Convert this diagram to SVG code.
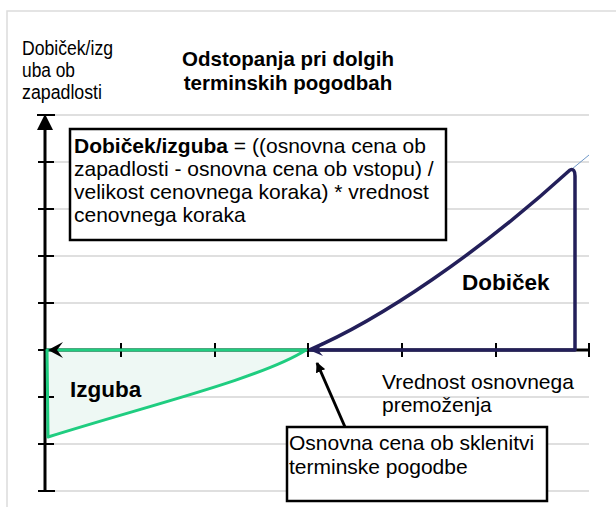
<svg xmlns="http://www.w3.org/2000/svg" width="616" height="509" viewBox="0 0 616 509">
<defs>
<style>
.frame{fill:none;stroke:#dcdcdc;stroke-width:1.5}
.grid{stroke:#d4d4d4;stroke-width:1.5}
.tick{stroke:#000;stroke-width:2}
.axis{stroke:#000;stroke-width:3;fill:none}
.t{font-family:"Liberation Sans",Arial,sans-serif;fill:#000}
.box{fill:#fff;stroke:#000;stroke-width:2.5}
</style>
<marker id="ah" markerWidth="10" markerHeight="10" refX="9" refY="5" orient="auto" markerUnits="userSpaceOnUse" viewBox="0 0 10 10">
<path d="M0,0 L10,5 L0,10 z" fill="#000"/>
</marker>
</defs>
<rect width="616" height="509" fill="#fff"/>
<path class="frame" d="M616,11 H7 V507"/>
<g id="grid">
<line class="grid" x1="45" y1="115" x2="589" y2="115"/>
<line class="grid" x1="45" y1="162" x2="589" y2="162"/>
<line class="grid" x1="45" y1="209" x2="589" y2="209"/>
<line class="grid" x1="45" y1="256" x2="589" y2="256"/>
<line class="grid" x1="45" y1="303" x2="589" y2="303"/>
<line class="grid" x1="45" y1="397" x2="589" y2="397"/>
<line class="grid" x1="45" y1="444" x2="589" y2="444"/>
<line class="grid" x1="45" y1="491" x2="589" y2="491"/>
</g>
<g id="loss">
<path d="M47,350 H306 C262,378 150,405 48,437 Z" fill="#eef8f4" stroke="none"/>
</g>
<g id="axes">
<line class="axis" x1="45" y1="124" x2="45" y2="491"/>
<line class="axis" x1="45" y1="350" x2="589" y2="350" stroke-width="2.5"/>
<path d="M45,114 L53,130 L37,130 Z" fill="#000"/>
<line class="tick" x1="37" y1="115" x2="55" y2="115"/>
<line class="tick" x1="38" y1="162" x2="54" y2="162"/>
<line class="tick" x1="38" y1="209" x2="54" y2="209"/>
<line class="tick" x1="38" y1="256" x2="54" y2="256"/>
<line class="tick" x1="38" y1="303" x2="54" y2="303"/>
<line class="tick" x1="38" y1="350" x2="54" y2="350"/>
<line class="tick" x1="38" y1="397" x2="54" y2="397"/>
<line class="tick" x1="38" y1="444" x2="54" y2="444"/>
<line class="tick" x1="38" y1="491" x2="55" y2="491"/>
<line class="tick" x1="121" y1="343" x2="121" y2="357"/>
<line class="tick" x1="215" y1="343" x2="215" y2="357"/>
<line class="tick" x1="308" y1="343" x2="308" y2="357"/>
<line class="tick" x1="402" y1="343" x2="402" y2="357"/>
<line class="tick" x1="496" y1="343" x2="496" y2="357"/>
<line class="tick" x1="589" y1="343" x2="589" y2="357"/>
</g>
<g id="loss-outline">
<path d="M47,350 H306 C262,378 150,405 48,437 Z" fill="none" stroke="#1fcd80" stroke-width="3" stroke-linejoin="round"/>
<path d="M63,342 L48,350 L63,358 L57,350 Z" fill="#000"/>
</g>
<g id="profit">
<line x1="572" y1="169" x2="589" y2="155" stroke="#6f98c8" stroke-width="1"/>
<path d="M309,350 C380,320 480,252 570,170 Q575,168 575,176 V350 H309" fill="none" stroke="#231f5a" stroke-width="3.5" stroke-linejoin="round"/>
<path d="M323,342 L309,350 L323,356 L318,350 Z" fill="#231f5a"/>
</g>
<g id="title">
<text class="t" x="288" y="66" font-size="20.5" font-weight="bold" text-anchor="middle">Odstopanja pri dolgih</text>
<text class="t" x="288" y="90" font-size="20.5" font-weight="bold" text-anchor="middle">terminskih pogodbah</text>
</g>
<g id="ylabel">
<text class="t" x="22" y="55" font-size="20" textLength="91" lengthAdjust="spacingAndGlyphs">Dobiček/izg</text>
<text class="t" x="22" y="77" font-size="20" textLength="53" lengthAdjust="spacingAndGlyphs">uba ob</text>
<text class="t" x="22" y="99" font-size="20" textLength="80" lengthAdjust="spacingAndGlyphs">zapadlosti</text>
</g>
<g id="formula">
<rect class="box" x="70" y="129" width="376" height="111"/>
<text class="t" x="74" y="153" font-size="21"><tspan font-weight="bold">Dobiček/izguba</tspan> = ((osnovna cena ob</text>
<text class="t" x="74" y="176" font-size="21">zapadlosti - osnovna cena ob vstopu) /</text>
<text class="t" x="74" y="199" font-size="21">velikost cenovnega koraka) * vrednost</text>
<text class="t" x="74" y="222" font-size="21">cenovnega koraka</text>
</g>
<g id="labels">
<text class="t" x="462" y="290" font-size="22.5" font-weight="bold">Dobiček</text>
<text class="t" x="70" y="397" font-size="22.5" font-weight="bold">Izguba</text>
<text class="t" x="382" y="389" font-size="21">Vrednost osnovnega</text>
<text class="t" x="382" y="412" font-size="21">premoženja</text>
</g>
<g id="connectors">
<line x1="345" y1="427" x2="317" y2="363" stroke="#000" stroke-width="3" marker-end="url(#ah)"/>
</g>
<g id="strike-box">
<rect class="box" x="287" y="427" width="260" height="74"/>
<text class="t" x="289" y="450" font-size="21">Osnovna cena ob sklenitvi</text>
<text class="t" x="289" y="474" font-size="21">terminske pogodbe</text>
</g>
</svg>
